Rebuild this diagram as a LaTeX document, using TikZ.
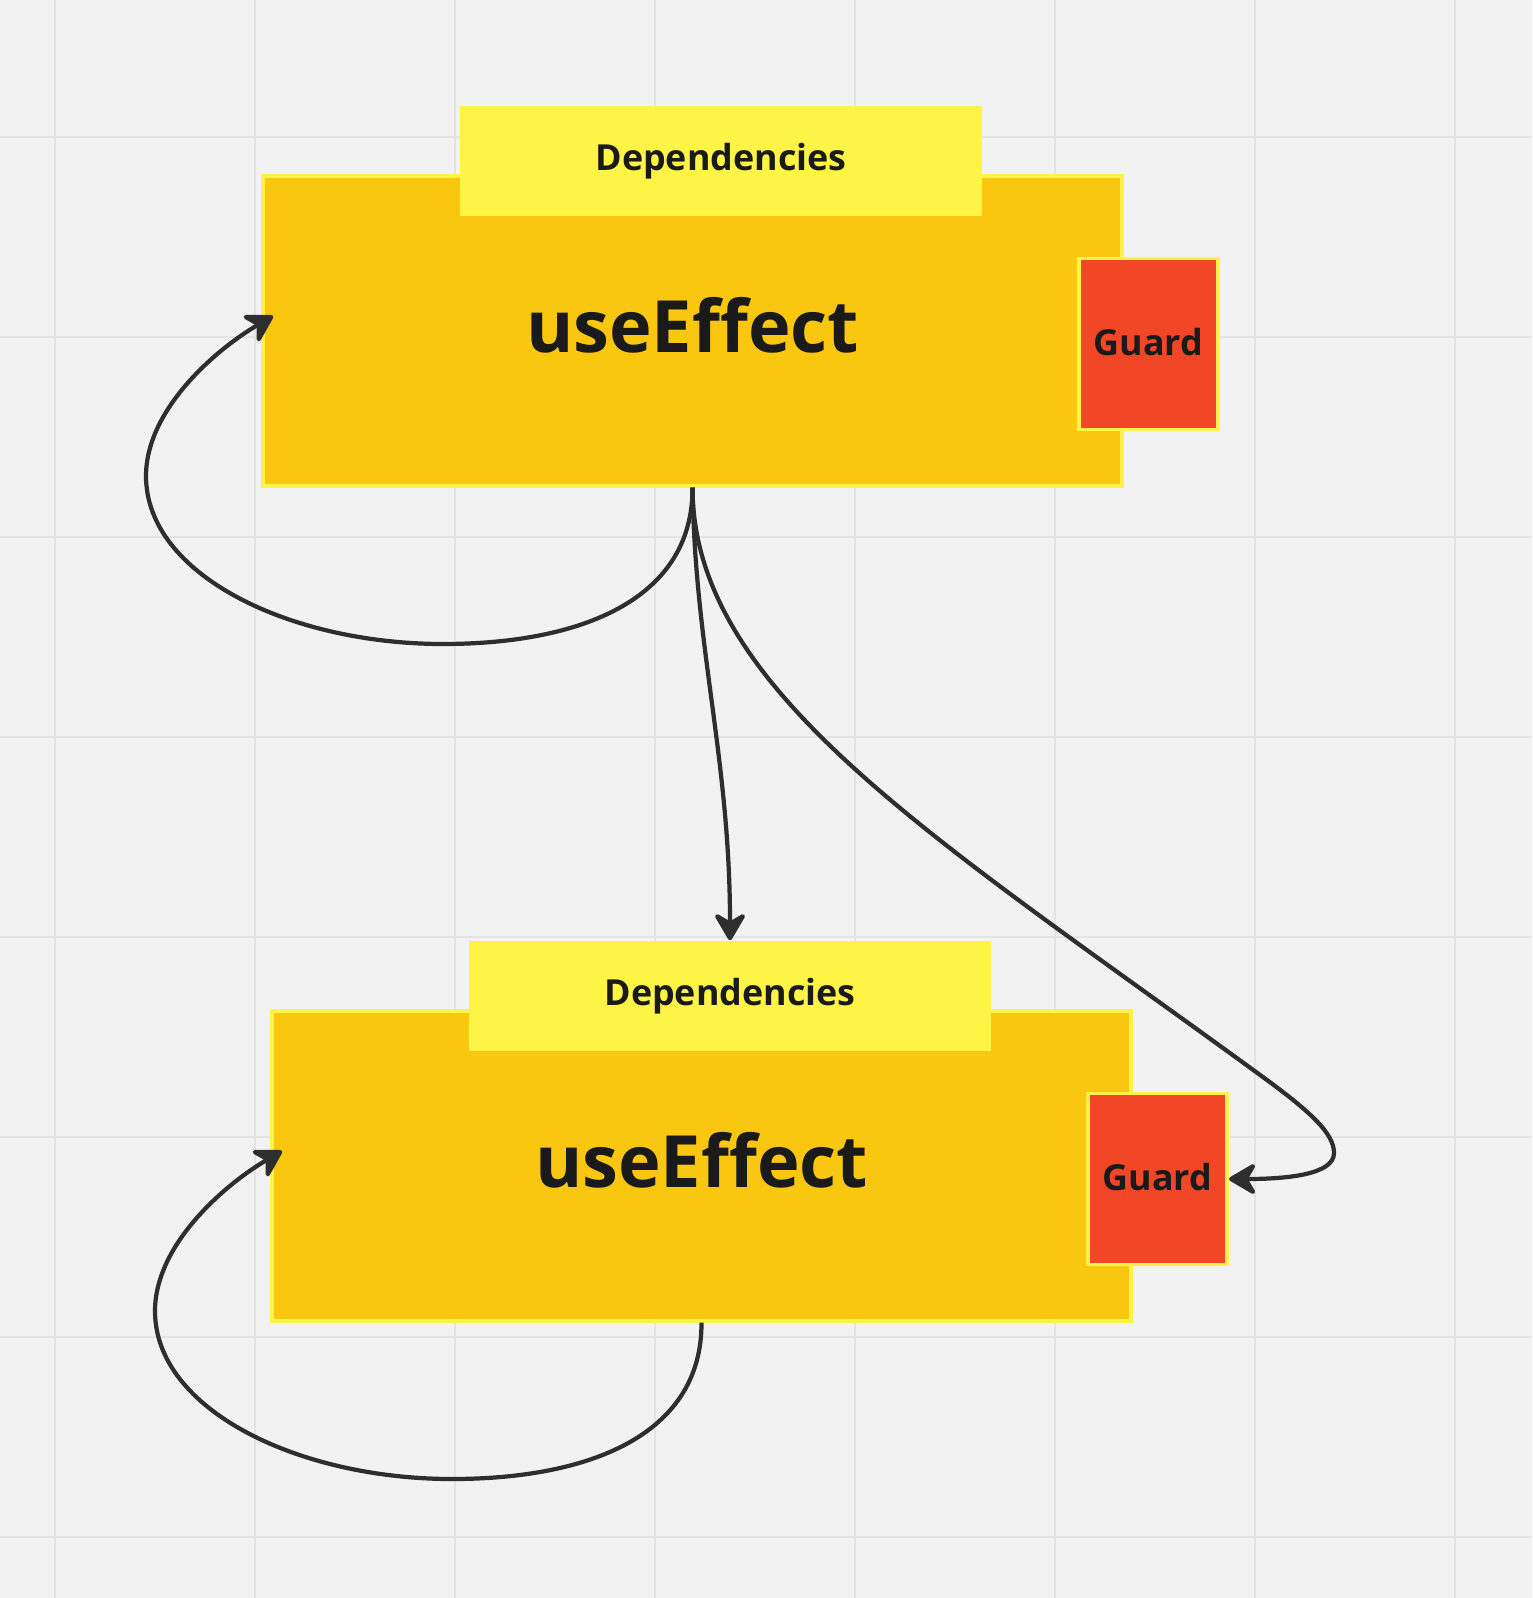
\documentclass[tikz,border=0pt]{standalone}
\usepackage{fontspec}
\setmainfont{Open Sans}
\usetikzlibrary{arrows.meta}

\definecolor{paper}{HTML}{F2F2F2}
\definecolor{gridline}{HTML}{E4E4E4}
\definecolor{effectfill}{HTML}{FAC710}
\definecolor{depsfill}{HTML}{FEF445}
\definecolor{rimyellow}{HTML}{FFF24A}
\definecolor{guardred}{HTML}{F24726}
\definecolor{ink}{HTML}{1A1A1A}
\definecolor{wire}{HTML}{2E2E2E}

\begin{document}
\begin{tikzpicture}
[x=0.01cm,y=-0.01cm,%
  effectbox/.style={shape=rectangle,fill=effectfill,draw=rimyellow,line width=1.1pt,
    minimum width=8.58cm,minimum height=3.09cm,text=ink,text depth=3.5pt,
    font=\bfseries\fontsize{20.5}{24}\selectfont},%
  depsbox/.style={shape=rectangle,fill=depsfill,inner sep=0pt,
    minimum width=5.22cm,minimum height=1.10cm,text=ink,
    font=\bfseries\fontsize{10.2}{12}\selectfont},%
  guardbox/.style={shape=rectangle,fill=guardred,draw=rimyellow,line width=1.1pt,
    minimum width=1.39cm,minimum height=1.71cm,text=ink,text depth=1pt,
    font=\bfseries\fontsize{10.2}{12}\selectfont},%
  flow/.style={draw=wire,line width=1.2pt,
    -{Stealth[length=9pt,width=10.5pt,inset=3pt,round]}}]
% paper and grid
\fill[paper] (0,0) rectangle (1532,1598);
\useasboundingbox (0,0) rectangle (1532,1598);
\foreach \gx in {55,255,...,1455}
  \draw[gridline,line width=0.5pt] (\gx,0) -- (\gx,1598);
\foreach \gy in {137,337,...,1537}
  \draw[gridline,line width=0.5pt] (0,\gy) -- (1532,\gy);
% upper effect
\node[effectbox] (ue1) at (692.5,331) {useEffect};
\node[depsbox] (deps1) at (721,161) {Dependencies};
\node[guardbox] (guard1) at (1148.5,344) {Guard};
% lower effect
\node[effectbox] (ue2) at (701.5,1166) {useEffect};
\node[depsbox] (deps2) at (730,996) {Dependencies};
\node[guardbox] (guard2) at (1157.5,1179) {Guard};
% loose ends
\coordinate (ue1in) at (273,316);
\coordinate (ue2in) at (282,1151);
% connectors
\draw[flow] (ue1.south) .. controls (693,600) and (580,644) .. (443,644)
  .. controls (290,644) and (146,575) .. (146,476)
  .. controls (146,410) and (215,350) .. (ue1in);
\draw[flow] (ue1.south) .. controls (695,650) and (730,760) .. (deps2.north);
\draw[flow] (ue1.south) .. controls (693,690) and (932,836) .. (1256,1072)
  .. controls (1310,1111) and (1334,1133) .. (1334,1153)
  .. controls (1334,1175) and (1285,1179) .. (guard2.east);
\draw[flow] (ue2.south) .. controls (702,1435) and (589,1479) .. (452,1479)
  .. controls (299,1479) and (155,1410) .. (155,1311)
  .. controls (155,1245) and (224,1185) .. (ue2in);
\end{tikzpicture}
\end{document}
